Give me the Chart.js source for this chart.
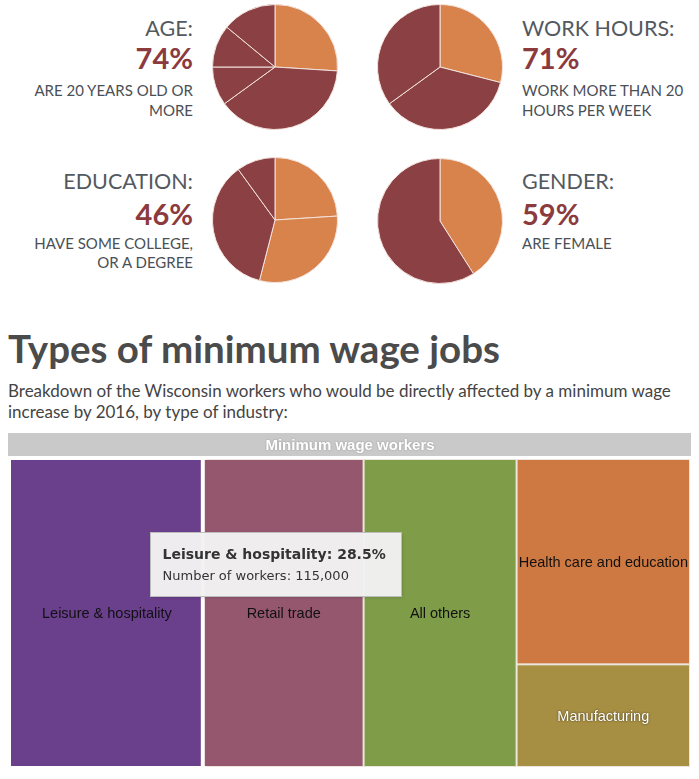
<!DOCTYPE html>
<html><head><meta charset="utf-8">
<script src="https://cdn.jsdelivr.net/npm/chart.js@4"></script>
<style>
body{margin:0;background:#fff;width:699px;height:779px;overflow:hidden;position:relative;font-family:Lato,"Open Sans",sans-serif}
.t{position:absolute;white-space:nowrap;line-height:1.2}
.lbl{font-size:21.5px;color:#535960}
.pct{font-size:29px;font-weight:bold;color:#8b3a3e}
.sub{font-size:15px;color:#4a5056}
.r{text-align:right;left:0;width:193px}
.l{left:522px}
canvas{position:absolute}
#title{left:8px;top:325px;font-size:38.5px;font-weight:bold;color:#4b4b4b}
#desc{left:8px;top:380px;font-size:17px;line-height:21px;color:#444}
</style></head><body>

<div class="t lbl r" style="top:16px">AGE:</div>
<div class="t pct r" style="top:41px">74%</div>
<div class="t sub r" style="top:81px">ARE 20 YEARS OLD OR</div>
<div class="t sub r" style="top:101px">MORE</div>

<div class="t lbl l" style="top:16px">WORK HOURS:</div>
<div class="t pct l" style="top:41px">71%</div>
<div class="t sub l" style="top:81px">WORK MORE THAN 20</div>
<div class="t sub l" style="top:101px">HOURS PER WEEK</div>

<div class="t lbl r" style="top:169px">EDUCATION:</div>
<div class="t pct r" style="top:197px">46%</div>
<div class="t sub r" style="top:234px">HAVE SOME COLLEGE,</div>
<div class="t sub r" style="top:253px">OR A DEGREE</div>

<div class="t lbl l" style="top:169px">GENDER:</div>
<div class="t pct l" style="top:197px">59%</div>
<div class="t sub l" style="top:234px">ARE FEMALE</div>

<div class="t" id="title">Types of minimum wage jobs</div>
<div class="t" id="desc">Breakdown of the Wisconsin workers who would be directly affected by a minimum wage<br>increase by 2016, by type of industry:</div>

<canvas id="pAge" width="126" height="126" style="left:212px;top:4px"></canvas>
<canvas id="pHours" width="126" height="126" style="left:377px;top:4px"></canvas>
<canvas id="pEdu" width="126" height="126" style="left:212px;top:157px"></canvas>
<canvas id="pGender" width="126" height="126" style="left:377px;top:158px"></canvas>
<canvas id="tm" width="684" height="338" style="left:8px;top:432px"></canvas>

<script>
// ---- pie data ----
const ageLabels = ["16 to 19", "20 to 24", "25 to 34", "35 to 54", "55 and older"];
const ageValues = [26, 39, 10, 11, 14];
const hoursLabels = ["20 hours or fewer", "21 to 34 hours", "35 hours or more"];
const hoursValues = [29, 36, 35];
const eduLabels = ["Less than high school", "High school", "Some college", "College degree"];
const eduValues = [24, 30, 36, 10];
const genderLabels = ["Male", "Female"];
const genderValues = [41, 59];

// ---- treemap data ----
const treemapTitle = "Minimum wage workers";
const industries = ["Leisure & hospitality", "Retail trade", "All others", "Health care and education", "Manufacturing"];
const shares = [28.5, 23.5, 22.5, 17.0, 8.5];
const workers = [115000, 95000, 91000, 69000, 34000];
const columns = [[0], [1], [2], [3, 4]];
const hovered = 0;

// ---- styles ----
const ORANGE = "#d8834c", DARK = "#8b4044";
const cellColors = ["#6a3f8c", "#94576e", "#7f9d48", "#cf7942", "#a68e42"];
const labelColors = ["#111", "#111", "#111", "#111", "#fff"];

function pie(id, labels, values, colors) {
  new Chart(document.getElementById(id), {
    type: 'pie',
    data: { labels, datasets: [{ data: values, backgroundColor: colors, borderColor: '#f3e2dc', borderWidth: 1 }] },
    options: { responsive: false, animation: false, events: [], layout: { padding: 0 },
      plugins: { legend: { display: false }, tooltip: { enabled: false } } }
  });
}
pie('pAge', ageLabels, ageValues, [ORANGE, DARK, DARK, DARK, DARK]);
pie('pHours', hoursLabels, hoursValues, [ORANGE, DARK, DARK]);
pie('pEdu', eduLabels, eduValues, [ORANGE, ORANGE, DARK, DARK]);
pie('pGender', genderLabels, genderValues, [ORANGE, DARK]);

const treemapPlugin = {
  id: 'treemap',
  afterDatasetsDraw(chart) {
    const { ctx, chartArea: a, scales: { x, y } } = chart;
    ctx.save();
    // header (parent level)
    ctx.fillStyle = '#c9c9c9';
    ctx.fillRect(a.left - 2, 1, a.right - a.left + 3, 23);
    ctx.font = 'bold 15px "Liberation Sans", Arial, sans-serif';
    ctx.textAlign = 'center'; ctx.textBaseline = 'middle';
    ctx.shadowColor = 'rgba(0,0,0,0.25)'; ctx.shadowBlur = 2;
    ctx.fillStyle = '#fff';
    ctx.fillText(treemapTitle, (a.left + a.right) / 2, 14);
    ctx.shadowColor = 'transparent'; ctx.shadowBlur = 0;
    // gap background
    ctx.fillStyle = '#ece6dc';
    ctx.fillRect(a.left, a.top, a.right - a.left, a.bottom - a.top);
    // layout
    const total = shares.reduce((s, v) => s + v, 0);
    const rects = [];
    let x0 = 0;
    columns.forEach(col => {
      const colSum = col.reduce((s, i) => s + shares[i], 0);
      const x1 = x0 + colSum / total * 100;
      let y0 = 0;
      col.forEach(i => {
        const y1 = y0 + shares[i] / colSum;
        rects[i] = { l: x.getPixelForValue(x0), r: x.getPixelForValue(x1), t: y.getPixelForValue(y0), b: y.getPixelForValue(y1) };
        y0 = y1;
      });
      x0 = x1;
    });
    rects.forEach((rc, i) => {
      if (i === hovered) {
        ctx.fillStyle = '#ffffff';
        ctx.fillRect(rc.l, rc.t - 3, rc.r - rc.l + 2, rc.b - rc.t + 3);
        ctx.fillStyle = cellColors[i];
        ctx.fillRect(rc.l + 1, rc.t + 1, rc.r - rc.l - 4, rc.b - rc.t - 2);
      } else {
        ctx.fillStyle = cellColors[i];
        ctx.fillRect(rc.l + 1, rc.t + 1, rc.r - rc.l - 2, rc.b - rc.t - 2);
      }
    });
    // labels
    ctx.font = '14.5px "Liberation Sans", Arial, sans-serif';
    rects.forEach((rc, i) => {
      if (labelColors[i] === '#fff') { ctx.shadowColor = 'rgba(0,0,0,0.7)'; ctx.shadowBlur = 2; }
      else { ctx.shadowColor = 'transparent'; ctx.shadowBlur = 0; }
      ctx.fillStyle = labelColors[i];
      ctx.fillText(industries[i], (rc.l + rc.r) / 2, (rc.t + rc.b) / 2 + 1);
    });
    ctx.shadowColor = 'transparent'; ctx.shadowBlur = 0;
    // tooltip for hovered cell
    const h = rects[hovered];
    const cx = (h.l + h.r) / 2, cy = (h.t + h.b) / 2;
    const bx = Math.round(cx + 43) + 0.5, by = Math.round(cy - 81) + 0.5, bw = 251, bh = 64;
    ctx.shadowColor = 'rgba(0,0,0,0.18)'; ctx.shadowBlur = 3; ctx.shadowOffsetX = 1; ctx.shadowOffsetY = 1;
    ctx.fillStyle = 'rgba(243,243,243,0.97)';
    ctx.fillRect(bx, by, bw, bh);
    ctx.shadowColor = 'transparent'; ctx.shadowBlur = 0; ctx.shadowOffsetX = 0; ctx.shadowOffsetY = 0;
    ctx.strokeStyle = '#bdbdbd'; ctx.lineWidth = 1;
    ctx.strokeRect(bx, by, bw, bh);
    ctx.textAlign = 'left'; ctx.textBaseline = 'alphabetic';
    ctx.fillStyle = '#333';
    ctx.font = 'bold 14px "DejaVu Sans", sans-serif';
    ctx.fillText(industries[hovered] + ': ' + shares[hovered].toFixed(1) + '%', bx + 12, by + 26);
    ctx.font = '13px "DejaVu Sans", sans-serif';
    ctx.fillText('Number of workers: ' + workers[hovered].toLocaleString('en-US'), bx + 12, by + 47);
    ctx.restore();
  }
};

new Chart(document.getElementById('tm'), {
  type: 'scatter',
  data: { datasets: [{ data: [] }] },
  options: {
    responsive: false, animation: false, events: [],
    layout: { padding: { left: 2, right: 2, top: 27, bottom: 3 } },
    scales: {
      x: { type: 'linear', min: 0, max: 100, display: false },
      y: { type: 'linear', min: 0, max: 1, reverse: true, display: false }
    },
    plugins: { legend: { display: false }, tooltip: { enabled: false } }
  },
  plugins: [treemapPlugin]
});
</script>
</body></html>
